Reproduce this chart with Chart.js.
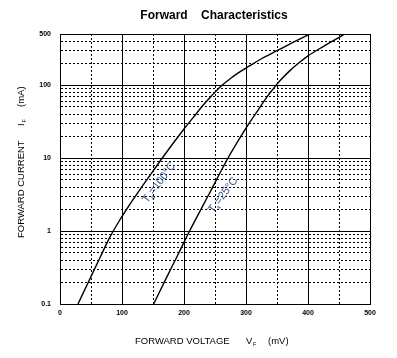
<!DOCTYPE html>
<html><head><meta charset="utf-8">
<script src="https://cdn.jsdelivr.net/npm/chart.js@4/dist/chart.umd.min.js"></script>
<style>html,body{margin:0;padding:0;background:#fff;}#wrap{width:397px;height:358px;position:relative;}</style>
</head><body><div id="wrap"><canvas id="c" width="397" height="358"></canvas></div>
<script>
// ---- data ----
const voltage100 = [29, 47, 65, 80, 95, 110, 130, 150, 165, 200, 215, 230, 245, 260, 275, 290, 305, 325, 350, 375, 403];
const current100 = [0.1, 0.21, 0.44, 0.81, 1.35, 2.14, 3.8, 6.6, 10, 25, 36, 52, 72, 97, 123, 151, 181, 229, 295, 380, 500];
const voltage25 = [151, 170, 190, 209, 240, 271, 300, 320, 335, 345, 355, 370, 385, 400, 425, 450, 459];
const current25 = [0.1, 0.214, 0.47, 1, 3.16, 10, 25.7, 46, 71, 91, 115, 155, 200, 251, 339, 450, 500];
const xTicks = [0, 50, 100, 150, 200, 250, 300, 350, 400, 450, 500];
const xLabels = [0, 100, 200, 300, 400, 500];
const yTicks = [0.1, 0.2, 0.3, 0.4, 0.5, 0.6, 0.7, 0.8, 0.9,
                1, 2, 3, 4, 5, 6, 7, 8, 9,
                10, 20, 30, 40, 50, 60, 70, 80, 90,
                100, 200, 300, 400, 500];
const yLabels = [0.1, 1, 10, 100, 500];
const yMajor = [0.1, 1, 10, 100, 500];
const curveTemps = ['100', '25'];
const curveLabelX = [160, 263];   // mV
const curveLabelY = [4.6, 3.1];   // mA

const FONT = '"Liberation Sans", Arial, sans-serif';
const near = (a, b) => Math.abs(a - b) < 1e-9 * Math.max(1, Math.abs(b));
const isYMajor = v => yMajor.some(m => near(v, m));
const isXMajor = v => xLabels.some(m => near(v, m));

const toPts = (xs, ys) => xs.map((x, i) => ({x: x, y: ys[i]}));

const textPlugin = {
  id: 'texts',
  afterDraw(chart) {
    const ctx = chart.ctx;
    ctx.save();
    ctx.fillStyle = '#000';
    // title
    ctx.font = 'bold 12px ' + FONT;
    ctx.textAlign = 'center';
    ctx.textBaseline = 'middle';
    ctx.fillText('Forward    Characteristics', 214, 16);
    // x axis title
    ctx.font = '9.5px ' + FONT;
    ctx.textAlign = 'left';
    ctx.textBaseline = 'middle';
    ctx.fillText('FORWARD VOLTAGE', 135, 341);
    ctx.fillText('V', 246, 341);
    ctx.font = '5.5px ' + FONT;
    ctx.fillText('F', 253, 344);
    ctx.font = '9.5px ' + FONT;
    ctx.fillText('(mV)', 268, 341);
    // y axis title
    ctx.save();
    ctx.translate(21, 0);
    ctx.rotate(-Math.PI / 2);
    ctx.font = '9.5px ' + FONT;
    ctx.textBaseline = 'middle';
    ctx.fillText('FORWARD CURRENT', -238, 0);
    ctx.fillText('I', -126, 0);
    ctx.font = '5.5px ' + FONT;
    ctx.fillText('F', -122.5, 3);
    ctx.font = '9.5px ' + FONT;
    ctx.fillText('(mA)', -107, 0);
    ctx.restore();
    // curve labels
    const xs = chart.scales.x, ys = chart.scales.y;
    curveTemps.forEach((t, i) => {
      const px = xs.getPixelForValue(curveLabelX[i]);
      const py = ys.getPixelForValue(curveLabelY[i]);
      ctx.save();
      ctx.translate(px, py);
      ctx.rotate(-53 * Math.PI / 180);
      ctx.fillStyle = '#3a5a92';
      ctx.textBaseline = 'middle';
      ctx.textAlign = 'left';
      const big = '11px ' + FONT, small = '6.5px ' + FONT;
      ctx.font = big; const wT = ctx.measureText('T').width;
      ctx.font = small; const wa = ctx.measureText('a').width;
      const rest = '=' + t + '\u00B0C';
      ctx.font = big; const wr = ctx.measureText(rest).width;
      let x0 = -(wT + wa + wr) / 2;
      ctx.fillText('T', x0, 0);
      ctx.font = small; ctx.fillText('a', x0 + wT - 0.5, 4);
      ctx.font = big; ctx.fillText(rest, x0 + wT + wa, 0);
      ctx.restore();
    });
    ctx.restore();
  }
};

new Chart(document.getElementById('c'), {
  type: 'line',
  data: {
    datasets: [
      {label: 'Ta=100°C', data: toPts(voltage100, current100)},
      {label: 'Ta=25°C', data: toPts(voltage25, current25)}
    ]
  },
  options: {
    responsive: false,
    animation: false,
    devicePixelRatio: 1,
    layout: {padding: {left: 0, top: 34, right: 27, bottom: 0}},
    elements: {
      line: {borderColor: '#000', borderWidth: 1.4, tension: 0.4, cubicInterpolationMode: 'monotone', fill: false},
      point: {radius: 0, hoverRadius: 0}
    },
    plugins: {legend: {display: false}, title: {display: false}, tooltip: {enabled: false}},
    scales: {
      x: {
        type: 'linear', min: 0, max: 500,
        afterBuildTicks: s => { s.ticks = xTicks.map(v => ({value: v})); },
        afterFit: s => { s.height = 54; },
        ticks: {
          autoSkip: false, maxRotation: 0, padding: 5,
          font: {family: FONT, size: 7, weight: 'bold'}, color: '#000',
          callback: v => isXMajor(v) ? String(v) : ''
        },
        grid: {drawTicks: false, lineWidth: 1, color: '#000'},
        border: {
          display: true, color: '#000', width: 1,
          dash: c => (c.tick && !isXMajor(c.tick.value)) ? [2, 2] : []
        }
      },
      y: {
        type: 'logarithmic', min: 0.1, max: 500,
        afterBuildTicks: s => { s.ticks = yTicks.map(v => ({value: v})); },
        afterFit: s => { s.width = 60; },
        ticks: {
          autoSkip: false, padding: 9,
          font: {family: FONT, size: 7, weight: 'bold'}, color: '#000',
          callback: v => yLabels.some(m => near(v, m)) ? String(v) : ''
        },
        grid: {drawTicks: false, lineWidth: 1, color: '#000'},
        border: {
          display: true, color: '#000', width: 1,
          dash: c => (c.tick && !isYMajor(c.tick.value)) ? [2, 2] : []
        }
      }
    }
  },
  plugins: [textPlugin]
});
</script>
</body></html>
